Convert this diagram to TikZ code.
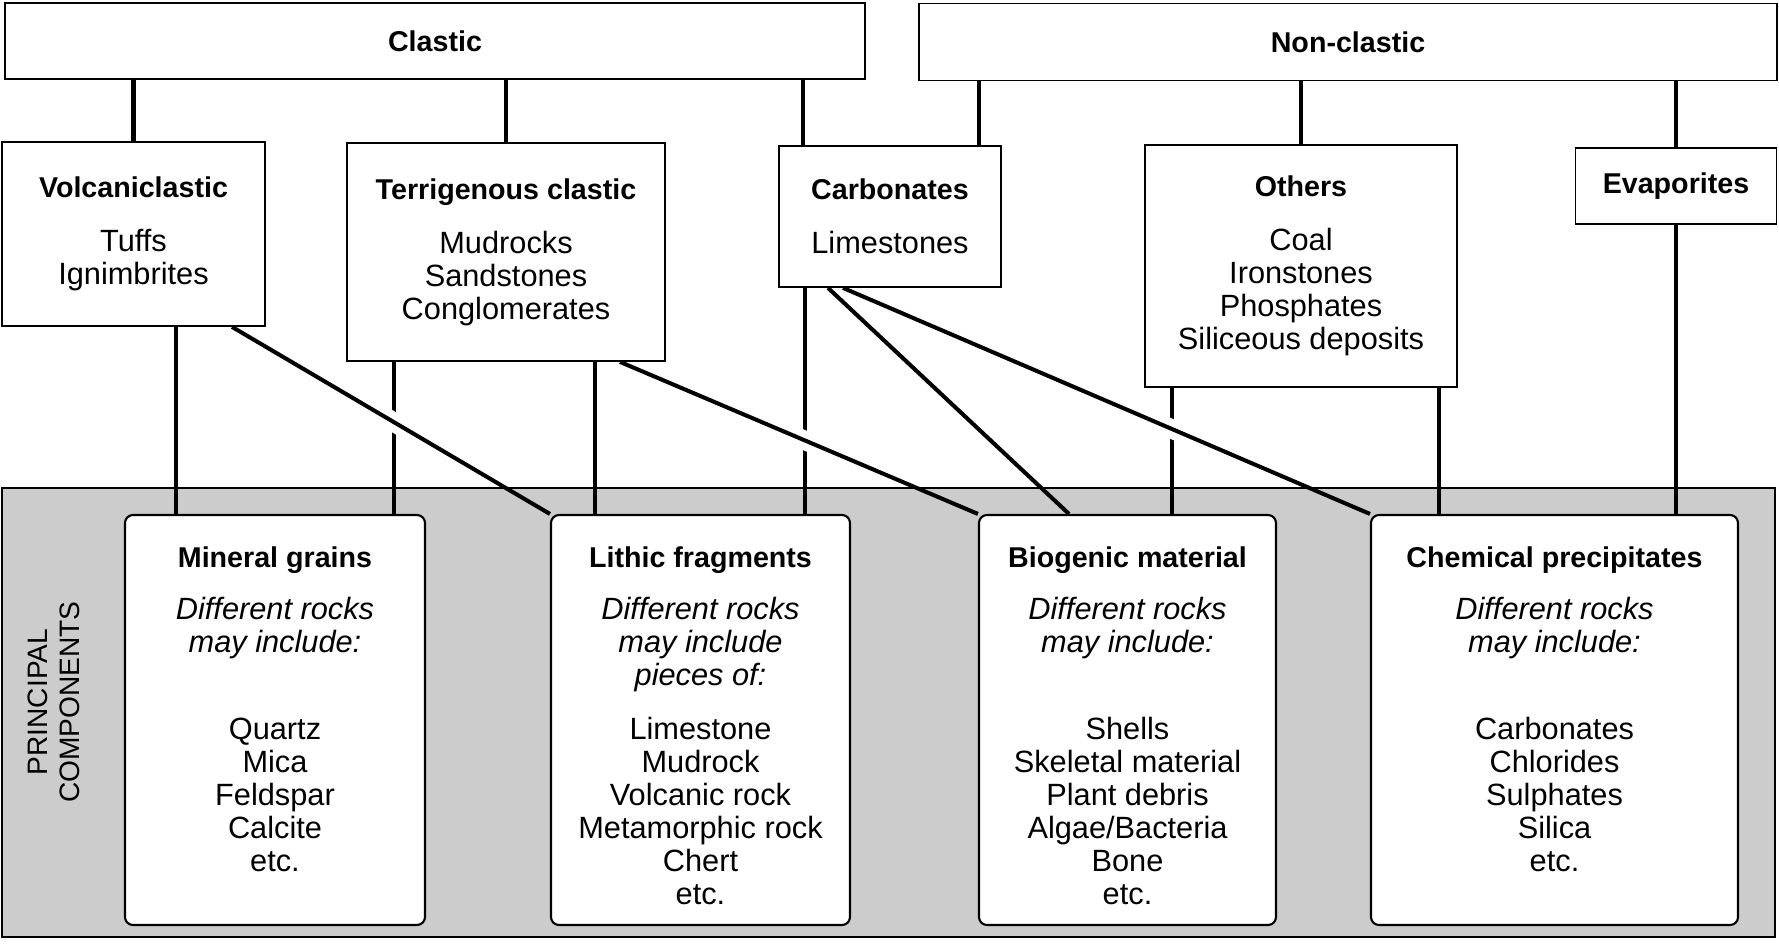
\documentclass[tikz,border=0pt]{standalone}
\usepackage{fontspec}
\setmainfont{Liberation Sans}
\usetikzlibrary{calc}
\newcommand{\hd}[1]{{\fontsize{16.3}{18.8}\selectfont\bfseries #1}}
\begin{document}
\begin{tikzpicture}[x=0.2mm,y=-0.2mm,
  every node/.style={font=\fontsize{17.5}{18.8}\selectfont},
  catbox/.style={draw,line width=1pt,fill=white,align=center,inner sep=0pt},
  compbox/.style={draw,line width=1.2pt,fill=white,rounded corners=1.6mm,minimum height=82mm},
  comptext/.style={anchor=north,align=center,inner sep=0pt},
  link/.style={line width=2.3pt},
  hop/.style={link,preaction={draw=white,line width=11pt,shorten <=25mm,shorten >=25mm}}]
  \useasboundingbox (0,0) rectangle (1779,943);
  % shaded band
  \draw[line width=1pt,fill=black!20] (2,488) rectangle (1775,937);
  \node[rotate=90,align=center,font=\fontsize{16}{18.2}\selectfont] (princ) at (54,702) {PRINCIPAL\\COMPONENTS};
  % classes
  \node[catbox,minimum width=172mm,minimum height=15.2mm] (clastic) at (435,41) {\hd{Clastic}};
  \node[catbox,minimum width=171.6mm,minimum height=15.4mm] (nonclastic) at (1348,42) {\hd{Non-clastic}};
  \node[catbox,minimum width=52.6mm,minimum height=36.8mm] (volc) at (133.5,234) {\hd{Volcaniclastic}\\[4.2mm]Tuffs\\Ignimbrites};
  \node[catbox,minimum width=63.6mm,minimum height=43.6mm] (terr) at (506,252) {\hd{Terrigenous clastic}\\[4.2mm]Mudrocks\\Sandstones\\Conglomerates};
  \node[catbox,minimum width=44.4mm,minimum height=28.2mm] (carb) at (890,216.5) {\hd{Carbonates}\\[4.2mm]Limestones};
  \node[catbox,minimum width=62.4mm,minimum height=48.4mm] (others) at (1301,266) {\hd{Others}\\[4.2mm]Coal\\Ironstones\\Phosphates\\Siliceous deposits};
  \node[catbox,minimum width=40.2mm,minimum height=15.2mm] (evap) at (1676,186) {\hd{Evaporites}};
  % components
  \node[compbox,minimum width=60mm] (mineral) at (275,720) {};
  \node[compbox,minimum width=59.8mm] (lithic) at (700.5,720) {};
  \node[compbox,minimum width=59.4mm] (biogenic) at (1127.5,720) {};
  \node[compbox,minimum width=73.4mm] (chemical) at (1554.5,720) {};
  \node[comptext] (mineraltext) at ($(mineral.north)+(0,32)$) {\hd{Mineral grains}\\[3.8mm]\textit{Different rocks}\\\textit{may include:}\\[10.8mm]Quartz\\Mica\\Feldspar\\Calcite\\etc.};
  \node[comptext] (lithictext) at ($(lithic.north)+(0,32)$) {\hd{Lithic fragments}\\[3.8mm]\textit{Different rocks}\\\textit{may include}\\\textit{pieces of:}\\[4.2mm]Limestone\\Mudrock\\Volcanic rock\\Metamorphic rock\\Chert\\etc.};
  \node[comptext] (biogenictext) at ($(biogenic.north)+(0,32)$) {\hd{Biogenic material}\\[3.8mm]\textit{Different rocks}\\\textit{may include:}\\[10.8mm]Shells\\Skeletal material\\Plant debris\\Algae/Bacteria\\Bone\\etc.};
  \node[comptext] (chemicaltext) at ($(chemical.north)+(0,32)$) {\hd{Chemical precipitates}\\[3.8mm]\textit{Different rocks}\\\textit{may include:}\\[10.8mm]Carbonates\\Chlorides\\Sulphates\\Silica\\etc.};
  % class links
  \path ([xshift=-17.4mm]carb.north) coordinate (ca) ([xshift=17.8mm]carb.north) coordinate (cb);
  \draw[link] (volc.north) -- (volc.north |- clastic.south);
  \draw[link] (terr.north) -- (terr.north |- clastic.south);
  \draw[link] (ca) -- (ca |- clastic.south);
  \draw[link] (cb) -- (cb |- nonclastic.south);
  \draw[link] (others.north) -- (others.north |- nonclastic.south);
  \draw[link] (evap.north) -- (evap.north |- nonclastic.south);
  % component links
  \path ([xshift=8.5mm]volc.south) coordinate (v1) ([xshift=19.7mm]volc.south) coordinate (v2)
        ([xshift=-22.4mm]terr.south) coordinate (t1) ([xshift=17.8mm]terr.south) coordinate (t2)
        ([xshift=22.8mm]terr.south) coordinate (t3)
        ([xshift=-17mm]carb.south) coordinate (c1) ([xshift=-12.4mm]carb.south) coordinate (c2)
        ([xshift=-9.4mm]carb.south) coordinate (c3)
        ([xshift=-25.8mm]others.south) coordinate (o1) ([xshift=27.6mm]others.south) coordinate (o2)
        ([xshift=-11.7mm]biogenic.north) coordinate (b1);
  \foreach \a/\b in {v1/mineral,t1/mineral,t2/lithic,c1/lithic,o1/biogenic,o2/chemical,evap.south/chemical}
    \draw[link] (\a) -- (\a |- \b.north);
  \draw[link] (c2) -- (b1);
  \draw[hop] (v2) -- (lithic.north west);
  \draw[hop] (t3) -- (biogenic.north west);
  \draw[hop] (c3) -- (chemical.north west);
\end{tikzpicture}
\end{document}
